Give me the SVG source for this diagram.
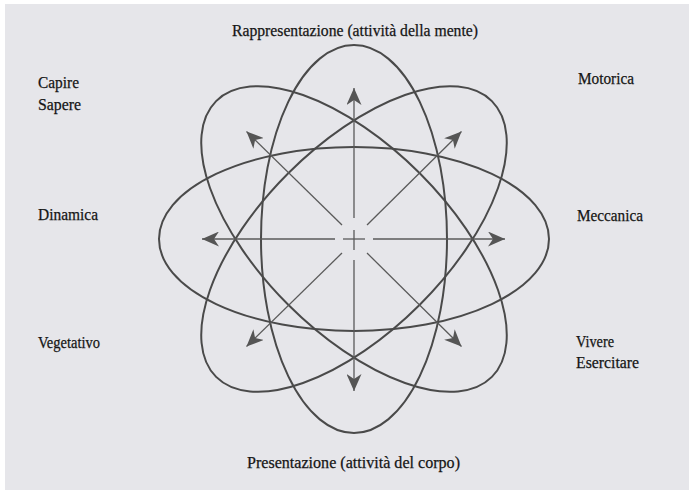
<svg xmlns="http://www.w3.org/2000/svg" width="689" height="490" viewBox="0 0 689 490">
  <style>
    .lbl { font-family: "Liberation Serif", "Times New Roman", serif; font-size: 16.5px; fill: #151515; stroke: #151515; stroke-width: 0.25; }
    .orbit { fill: none; stroke: #4a4a4a; stroke-width: 2; }
    .ray { fill: none; stroke: #5a5a5a; stroke-width: 1.3; }
  </style>
  <defs>
    <marker id="arr" markerUnits="userSpaceOnUse" markerWidth="19" markerHeight="15" refX="17" refY="7.5" orient="auto">
      <path d="M0,0 L17,7.5 L0,15 L5,7.5 Z" fill="#555"/>
    </marker>
  </defs>
  <rect x="0" y="0" width="689" height="490" fill="#ffffff"/>
  <rect x="5" y="4" width="684" height="486" fill="#e6e6ea"/>

  <g id="orbits">
    <ellipse id="orbit-vertical" class="orbit" cx="354" cy="239" rx="93" ry="194"/>
    <ellipse id="orbit-horizontal" class="orbit" cx="354" cy="239" rx="195" ry="92"/>
    <ellipse id="orbit-diag1" class="orbit" cx="354" cy="239" rx="195" ry="93" transform="rotate(45 354 239)"/>
    <ellipse id="orbit-diag2" class="orbit" cx="354" cy="239" rx="195" ry="93" transform="rotate(-45 354 239)"/>
  </g>

  <g id="connectors">
    <line class="ray" x1="354" y1="218" x2="354" y2="88" marker-end="url(#arr)"/>
    <line class="ray" x1="354" y1="260" x2="354" y2="391" marker-end="url(#arr)"/>
    <line class="ray" x1="335" y1="239" x2="202" y2="239" marker-end="url(#arr)"/>
    <line class="ray" x1="373" y1="239" x2="505" y2="239" marker-end="url(#arr)"/>
    <line class="ray" x1="342" y1="225" x2="246.5" y2="131.5" marker-end="url(#arr)"/>
    <line class="ray" x1="367" y1="225" x2="461.5" y2="131.5" marker-end="url(#arr)"/>
    <line class="ray" x1="342" y1="253" x2="246.5" y2="346.5" marker-end="url(#arr)"/>
    <line class="ray" x1="367" y1="253" x2="461.5" y2="346.5" marker-end="url(#arr)"/>
    <line class="ray" x1="343" y1="239" x2="365" y2="239"/>
    <line class="ray" x1="354" y1="230" x2="354" y2="250"/>
  </g>

  <g id="label-top"><text class="lbl" x="232" y="36" textLength="246" lengthAdjust="spacingAndGlyphs">Rappresentazione (attività della mente)</text></g>
  <g id="label-bottom"><text class="lbl" x="247" y="468" textLength="213" lengthAdjust="spacingAndGlyphs">Presentazione (attività del corpo)</text></g>
  <g id="label-capire"><text class="lbl" x="38" y="88" textLength="41" lengthAdjust="spacingAndGlyphs">Capire</text><text class="lbl" x="38" y="110" textLength="43" lengthAdjust="spacingAndGlyphs">Sapere</text></g>
  <g id="label-motorica"><text class="lbl" x="578" y="84" textLength="56" lengthAdjust="spacingAndGlyphs">Motorica</text></g>
  <g id="label-dinamica"><text class="lbl" x="38" y="220" textLength="60" lengthAdjust="spacingAndGlyphs">Dinamica</text></g>
  <g id="label-meccanica"><text class="lbl" x="577" y="221" textLength="66" lengthAdjust="spacingAndGlyphs">Meccanica</text></g>
  <g id="label-vegetativo"><text class="lbl" x="38" y="348" textLength="62" lengthAdjust="spacingAndGlyphs">Vegetativo</text></g>
  <g id="label-vivere"><text class="lbl" x="576" y="347" textLength="38" lengthAdjust="spacingAndGlyphs">Vivere</text><text class="lbl" x="576" y="368" textLength="63" lengthAdjust="spacingAndGlyphs">Esercitare</text></g>
</svg>
